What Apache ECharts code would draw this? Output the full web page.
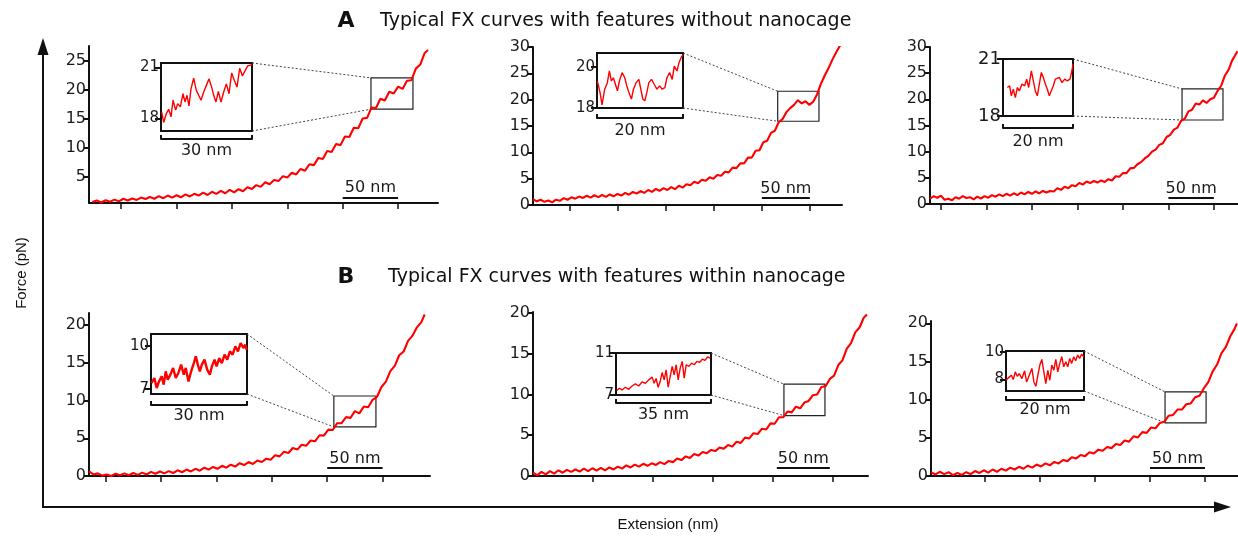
<!DOCTYPE html>
<html>
<head>
<meta charset="utf-8">
<title>FX curves</title>
<script src="https://cdn.jsdelivr.net/npm/echarts@6.0.0/dist/echarts.min.js"></script>
<style>
  html, body { margin: 0; padding: 0; background: #fff; }
  #chart { width: 1238px; height: 537px; }
</style>
</head>
<body>
<div id="chart"></div>
<script>
// force-extension curves, [extension nm, force pN]
const curveA1 = [[3,0.7],[7,0.95],[11,0.6],[15,1.0],[19,0.75],[23,1.1],[27,0.8],[31,1.25],[35,0.95],[39,1.3],[43,1.05],[47,1.45],[51,1.2],[55,1.55],[59,1.25],[63,1.7],[67,1.35],[71,1.8],[75,1.45],[79,1.85],[83,1.5],[87,2.0],[91,1.65],[95,2.1],[99,1.8],[103,2.3],[107,1.9],[111,2.45],[115,2.1],[119,2.6],[123,2.2],[127,2.8],[131,2.35],[135,2.9],[139,2.55],[143,3.25],[147,2.95],[151,3.6],[155,3.3],[159,4.1],[163,3.75],[167,4.5],[171,4.3],[175,5.15],[179,4.9],[183,5.75],[187,5.45],[191,6.4],[195,6.1],[199,7.2],[203,7.05],[207,8.3],[211,8.1],[215,9.5],[219,9.3],[223,10.7],[227,10.5],[231,12.0],[235,11.9],[239,13.5],[243,13.4],[247,15.1],[251,15.2],[255,17.0],[259,16.9],[263,18.5],[267,18.2],[271,19.7],[275,19.4],[279,20.6],[283,20.2],[287,21.6],[291,21.7],[295,23.7],[299,24.4],[303,26.4],[306,26.9]];
const curveA2 = [[0,1.1],[4,0.7],[8,1.0],[12,0.6],[16,0.85],[20,0.5],[24,1.0],[28,0.8],[32,1.3],[36,1.0],[40,1.45],[44,1.2],[48,1.6],[52,1.35],[56,1.75],[60,1.4],[64,1.85],[68,1.5],[72,1.9],[76,1.55],[80,2.0],[84,1.65],[88,2.1],[92,1.8],[96,2.3],[100,1.95],[104,2.5],[108,2.15],[112,2.65],[116,2.3],[120,2.85],[124,2.5],[128,3.05],[132,2.7],[136,3.2],[140,2.85],[144,3.4],[148,3.0],[152,3.65],[156,3.3],[160,3.95],[164,3.75],[168,4.4],[172,4.15],[176,4.8],[180,4.6],[184,5.25],[188,5.0],[192,5.7],[196,5.55],[200,6.3],[204,6.2],[208,7.1],[212,7.0],[216,7.9],[220,7.9],[224,9.0],[228,9.0],[232,10.3],[236,10.4],[240,11.9],[244,12.2],[248,13.7],[252,14.1],[256,15.7],[260,16.3],[264,17.6],[268,18.4],[272,19.0],[276,19.9],[280,19.3],[284,19.7],[288,19.0],[292,19.6],[296,21.0],[300,23.0],[304,24.6],[308,26.0],[312,27.6],[316,29.0],[320,30.3]];
const curveA3 = [[0,1.0],[4,1.5],[8,1.2],[12,1.6],[16,0.8],[20,1.0],[24,0.7],[28,1.3],[32,1.0],[36,1.5],[40,1.15],[44,1.3],[48,0.9],[52,1.4],[56,1.05],[60,1.5],[64,1.2],[68,1.7],[72,1.4],[76,1.85],[80,1.5],[84,1.95],[88,1.6],[92,2.05],[96,1.7],[100,2.2],[104,1.85],[108,2.3],[112,1.95],[116,2.4],[120,2.05],[124,2.5],[128,2.2],[132,2.5],[136,2.4],[140,3.0],[144,2.7],[148,3.3],[152,3.0],[156,3.6],[160,3.4],[164,4.0],[168,3.7],[172,4.3],[176,4.0],[180,4.4],[184,4.1],[188,4.5],[192,4.2],[196,4.75],[200,4.5],[204,5.3],[208,5.2],[212,5.9],[216,5.9],[220,6.8],[224,6.9],[228,7.6],[232,8.0],[236,8.7],[240,9.2],[244,10.0],[248,10.4],[252,11.3],[256,11.6],[260,12.8],[264,13.2],[268,14.2],[272,14.6],[276,15.9],[280,16.3],[284,17.7],[288,18.0],[292,19.2],[296,19.0],[300,19.8],[304,19.3],[308,20.0],[312,20.3],[316,21.6],[320,22.6],[324,24.5],[328,25.6],[332,27.4],[336,28.6],[338,29.2]];
const curveB1 = [[0,0.6],[4,0.2],[8,0.35],[12,0.05],[16,0.2],[20,0.0],[24,0.3],[28,0.1],[32,0.35],[36,0.1],[40,0.4],[44,0.15],[48,0.45],[52,0.2],[56,0.55],[60,0.3],[64,0.6],[68,0.35],[72,0.65],[76,0.4],[80,0.75],[84,0.5],[88,0.85],[92,0.6],[96,0.95],[100,0.7],[104,1.1],[108,0.85],[112,1.2],[116,0.95],[120,1.35],[124,1.1],[128,1.5],[132,1.25],[136,1.7],[140,1.45],[144,1.85],[148,1.6],[152,2.05],[156,1.85],[160,2.3],[164,2.15],[168,2.75],[172,2.6],[176,3.2],[180,3.05],[184,3.7],[188,3.5],[192,4.15],[196,4.0],[200,4.7],[204,4.6],[208,5.4],[212,5.35],[216,6.15],[220,6.1],[224,7.0],[228,7.0],[232,7.8],[236,7.7],[240,8.6],[244,8.3],[248,9.2],[252,9.1],[256,10.1],[260,10.5],[264,11.8],[268,12.5],[272,13.9],[276,14.6],[280,16.0],[284,16.5],[288,17.9],[292,18.6],[296,19.7],[300,20.4],[303,21.4]];
const curveB2 = [[0,0.4],[4,0.1],[8,0.5],[12,0.2],[16,0.6],[20,0.3],[24,0.7],[28,0.4],[32,0.75],[36,0.5],[40,0.8],[44,0.55],[48,0.9],[52,0.6],[56,0.95],[60,0.65],[64,1.0],[68,0.7],[72,1.05],[76,0.8],[80,1.15],[84,0.9],[88,1.3],[92,1.05],[96,1.4],[100,1.15],[104,1.5],[108,1.25],[112,1.55],[116,1.35],[120,1.7],[124,1.45],[128,1.85],[132,1.7],[136,2.15],[140,1.95],[144,2.4],[148,2.2],[152,2.7],[156,2.5],[160,2.95],[164,2.8],[168,3.2],[172,3.05],[176,3.5],[180,3.35],[184,3.8],[188,3.6],[192,4.2],[196,4.05],[200,4.7],[204,4.6],[208,5.25],[212,5.15],[216,5.8],[220,5.7],[224,6.45],[228,6.4],[232,7.2],[236,7.2],[240,7.9],[244,7.8],[248,8.5],[252,8.3],[256,9.0],[260,9.2],[264,9.9],[268,10.0],[272,10.9],[276,11.0],[280,11.9],[284,12.3],[288,13.6],[292,14.2],[296,15.6],[300,16.3],[304,17.6],[308,18.2],[312,19.4],[315,19.8]];
const curveB3 = [[0,0.5],[4,0.2],[8,0.55],[12,0.25],[16,0.5],[20,0.1],[24,0.4],[28,0.15],[32,0.5],[36,0.25],[40,0.65],[44,0.4],[48,0.75],[52,0.45],[56,0.85],[60,0.55],[64,0.95],[68,0.7],[72,1.1],[76,0.85],[80,1.2],[84,0.95],[88,1.35],[92,1.1],[96,1.5],[100,1.25],[104,1.65],[108,1.4],[112,1.85],[116,1.65],[120,2.1],[124,1.95],[128,2.45],[132,2.3],[136,2.75],[140,2.6],[144,3.1],[148,2.95],[152,3.45],[156,3.3],[160,3.8],[164,3.65],[168,4.2],[172,4.05],[176,4.65],[180,4.5],[184,5.2],[188,5.05],[192,5.75],[196,5.65],[200,6.35],[204,6.25],[208,6.95],[212,7.1],[216,7.9],[220,8.0],[224,8.7],[228,8.7],[232,9.4],[236,9.5],[240,10.3],[244,10.5],[248,11.5],[252,12.3],[256,13.7],[260,14.6],[264,16.1],[268,16.9],[272,18.3],[276,19.3],[278,20.0]];

// zoomed insets, [nm from box start, pN]
const insetA1 = [[0.22,18.39],[0.88,17.77],[1.76,18.29],[2.53,18.54],[3.3,18.1],[3.96,19.07],[4.84,18.49],[5.5,18.87],[6.37,18.68],[7.25,19.45],[7.91,18.97],[8.57,19.36],[9.23,18.74],[9.89,19.74],[10.77,20.36],[11.65,19.65],[12.42,19.36],[13.19,19.07],[14.07,19.55],[14.95,19.94],[15.83,20.32],[16.7,19.84],[17.36,19.36],[18.13,18.97],[18.9,19.59],[19.78,18.97],[20.66,19.55],[21.54,20.03],[22.42,19.45],[23.3,20.67],[24.18,20.23],[25.06,19.84],[25.94,20.94],[26.82,20.5],[27.7,20.79],[28.57,21.08],[29.45,21.12],[30,21.15]];
const insetA2 = [[0.08,19.32],[0.7,18.76],[1.17,18.15],[1.79,18.92],[2.41,19.24],[2.88,19.81],[3.35,19.32],[3.81,19.48],[4.28,19.16],[4.75,18.84],[5.21,19.32],[5.84,19.73],[6.46,19.48],[6.93,19.08],[7.55,18.68],[8.01,18.44],[8.48,18.92],[9.1,19.24],[9.73,19.4],[10.19,18.92],[10.66,18.44],[11.13,18.35],[11.59,18.76],[12.06,19.24],[12.68,19.4],[13.3,19.16],[13.93,18.92],[14.55,19.08],[15.17,18.92],[15.79,19.0],[16.26,19.48],[16.88,19.73],[17.5,19.4],[17.97,20.05],[18.6,19.81],[19.06,20.21],[19.53,20.45],[20,20.61]];
const insetA3 = [[1.24,19.5],[1.9,19.59],[2.38,19.06],[2.95,19.41],[3.52,18.97],[4.1,19.5],[4.67,19.32],[5.43,19.68],[6.19,19.59],[6.76,19.94],[7.33,19.5],[8.1,20.38],[8.67,19.85],[9.24,19.32],[9.81,19.06],[10.38,19.68],[10.95,20.29],[11.52,20.03],[12.1,19.68],[12.67,19.41],[13.24,19.06],[13.8,19.15],[14.38,19.59],[14.95,19.94],[15.52,19.85],[16.1,20.03],[16.86,19.76],[17.62,19.94],[18.38,19.85],[19.14,19.94],[19.7,20.38],[20,20.74]];
const insetB1 = [[0.21,7.42],[1.05,7.77],[1.78,7.07],[2.51,7.53],[3.34,7.88],[3.97,7.3],[4.6,8.23],[5.23,7.65],[6.06,8.0],[6.9,8.47],[7.73,7.77],[8.57,8.12],[9.41,8.7],[10.24,8.0],[10.87,8.47],[11.71,7.53],[12.54,8.23],[13.38,8.81],[14.0,9.28],[14.63,8.7],[15.26,8.23],[15.89,8.7],[16.72,9.05],[17.56,8.35],[18.39,8.0],[19.02,8.58],[19.86,9.05],[20.48,8.58],[21.32,9.16],[22.15,8.81],[22.99,9.4],[23.83,9.05],[24.66,9.63],[25.5,9.4],[26.34,9.98],[27.17,9.63],[28.01,10.21],[28.85,9.86],[29.47,10.09],[29.9,9.74]];
const insetB2 = [[0.25,7.42],[1.23,7.64],[2.22,7.48],[3.45,7.74],[4.68,7.54],[5.91,7.86],[7.15,8.06],[8.38,7.86],[9.61,8.25],[10.84,8.12],[12.07,8.44],[13.3,8.7],[14.04,8.12],[14.78,8.57],[15.52,7.74],[16.26,8.28],[17.0,9.14],[17.74,8.44],[18.48,9.4],[19.22,7.74],[19.96,8.76],[20.7,9.72],[21.43,8.92],[22.17,9.88],[22.91,8.44],[23.65,9.56],[24.39,10.2],[25.13,8.6],[25.87,9.88],[26.86,9.72],[27.84,10.04],[28.83,9.88],[29.81,10.2],[30.8,10.1],[31.79,10.42],[32.77,10.3],[33.76,10.62],[34.74,10.52]];
const insetB3 = [[0,7.95],[0.68,8.14],[1.36,8.31],[1.87,8.0],[2.38,8.55],[2.89,8.24],[3.4,8.43],[4.09,8.07],[4.77,8.63],[5.28,7.83],[5.96,8.31],[6.64,8.8],[7.15,7.83],[7.66,7.52],[8.17,8.31],[8.68,9.04],[9.19,9.45],[9.7,8.55],[10.21,7.71],[10.72,8.67],[11.23,7.95],[11.74,9.04],[12.26,8.67],[12.77,9.45],[13.28,8.55],[13.79,9.16],[14.3,9.64],[14.81,8.92],[15.32,9.28],[15.83,8.92],[16.34,9.52],[16.85,9.16],[17.36,9.64],[17.87,9.35],[18.38,9.76],[18.89,9.52],[19.4,9.83],[19.91,9.64]];

// axis ticks and labels
const xTicksA1 = [29, 79, 129, 179, 229, 279];
const xTicksA2 = [38.5, 88.5, 138.5, 188.5, 238.5, 288.5];
const xTicksA3 = [12, 62, 112, 162, 212, 262, 312];
const xTicksB1 = [15, 65, 115, 165, 215, 265];
const xTicksB2 = [56.6, 113.2, 169.8, 226.4, 283];
const xTicksB3 = [49, 99, 149, 199, 249];
const yLabelsA1 = [5, 10, 15, 20, 25];
const yLabelsA = [0, 5, 10, 15, 20, 25, 30];
const yLabelsB = [0, 5, 10, 15, 20];

const panels = [
  {curve: curveA1, xTicks: xTicksA1, yLabels: yLabelsA1, grid: {left: 89, top: 46, width: 349, height: 157}, x: [0, 315], y: [0.52, 27.6],
   box: [254.5, 292.4, 16.7, 22.1], bar: [229, 279, 1.5],
   inset: insetA1, ig: {left: 161, top: 63, width: 91, height: 68}, ix: [0, 30], iy: [17.27, 21.25], iLabels: [18, 21], iName: '30 nm', iOffset: 8, iGap: 4, iFont: 15},
  {curve: curveA2, xTicks: xTicksA2, yLabels: yLabelsA, grid: {left: 533, top: 47, width: 309, height: 158}, x: [0, 322], y: [0, 30],
   box: [255, 298, 15.9, 21.6], bar: [238.5, 288.5, 1.33],
   inset: insetA2, ig: {left: 597, top: 53, width: 86, height: 55}, ix: [0, 20], iy: [18, 20.69], iLabels: [18, 20], iName: '20 nm', iOffset: 10, iGap: 5, iFont: 15},
  {curve: curveA3, xTicks: xTicksA3, yLabels: yLabelsA, grid: {left: 930, top: 47, width: 308, height: 157}, x: [0, 338.5], y: [0, 30],
   box: [277, 322, 16.05, 21.98], bar: [262, 312, 1.15],
   inset: insetA3, ig: {left: 1003, top: 59, width: 70, height: 57}, ix: [0, 20], iy: [18, 21], iLabels: [18, 21], iName: '20 nm', iOffset: 12, iGap: 6, iFont: 18},
  {curve: curveB1, xTicks: xTicksB1, yLabels: yLabelsB, grid: {left: 89, top: 313, width: 341, height: 163}, x: [0, 307.8], y: [0, 21.6],
   box: [221, 259, 6.5, 10.6], bar: [215, 265, 1.06],
   inset: insetB1, ig: {left: 151, top: 334, width: 96, height: 60}, ix: [0, 30], iy: [6.65, 10.84], iLabels: [7, 10], iName: '30 nm', iOffset: 11, iGap: 3, iFont: 15, iWidth: 2.4},
  {curve: curveB2, xTicks: xTicksB2, yLabels: yLabelsB, grid: {left: 533, top: 312, width: 335, height: 164}, x: [0, 316], y: [0, 20.1],
   box: [236.7, 275.4, 7.4, 11.25], bar: [230, 280, 0.98],
   inset: insetB2, ig: {left: 616, top: 353, width: 95, height: 42}, ix: [0, 35], iy: [7, 11], iLabels: [7, 11], iName: '35 nm', iOffset: 8, iGap: 4, iFont: 15},
  {curve: curveB3, xTicks: xTicksB3, yLabels: yLabelsB, grid: {left: 931, top: 321, width: 307, height: 155}, x: [0, 279], y: [0, 20.3],
   box: [212.7, 250, 6.97, 11.02], bar: [199, 249, 1.05],
   inset: insetB3, ig: {left: 1006, top: 351, width: 78, height: 40}, ix: [0, 20], iy: [7.18, 10.05], iLabels: [8, 10], iName: '20 nm', iOffset: 9, iGap: 2, iFont: 15}
];

const ink = '#111';
const red = '#ff0000';
const wide = 'DejaVu Sans, Verdana, sans-serif';
const grid = [], xAxis = [], yAxis = [], series = [];

panels.forEach((p, i) => {
  grid.push(Object.assign({outerBoundsMode: 'none'}, p.grid));
  xAxis.push({
    gridIndex: i, type: 'value', min: p.x[0], max: p.x[1],
    axisLine: {show: true, lineStyle: {color: ink, width: 2}},
    axisTick: {show: true, customValues: p.xTicks, length: 6, lineStyle: {color: ink, width: 1.5}},
    axisLabel: {show: false},
    splitLine: {show: false}
  });
  yAxis.push({
    gridIndex: i, type: 'value', min: p.y[0], max: p.y[1],
    axisLine: {show: true, lineStyle: {color: ink, width: 2}},
    axisTick: {show: true, customValues: p.yLabels, length: 5, lineStyle: {color: ink, width: 2}},
    axisLabel: {show: true, customValues: p.yLabels, fontSize: 16, color: '#1a1a1a', margin: 3},
    splitLine: {show: false}
  });
  series.push({
    type: 'line', xAxisIndex: i, yAxisIndex: i, data: p.curve,
    symbol: 'none', lineStyle: {color: red, width: 2.1},
    markArea: {
      silent: true,
      itemStyle: {color: 'rgba(0,0,0,0)', borderColor: '#222', borderWidth: 1.2},
      data: [[{coord: [p.box[0], p.box[2]]}, {coord: [p.box[1], p.box[3]]}]]
    },
    markLine: {
      silent: true, symbol: ['none', 'none'],
      lineStyle: {color: ink, width: 2, type: 'solid'},
      label: {show: true, position: 'middle', formatter: '50 nm', fontSize: 16, color: '#1a1a1a', distance: 1},
      data: [[{coord: [p.bar[0], p.bar[2]]}, {coord: [p.bar[1], p.bar[2]]}]]
    }
  });
});

panels.forEach((p, i) => {
  const k = 6 + i;
  grid.push(Object.assign({outerBoundsMode: 'none', show: true, borderColor: ink, borderWidth: 2}, p.ig));
  xAxis.push({
    gridIndex: k, type: 'value', min: p.ix[0], max: p.ix[1], offset: p.iOffset,
    axisLine: {show: true, lineStyle: {color: ink, width: 2}},
    axisTick: {show: true, inside: true, customValues: p.ix, length: 4, lineStyle: {color: ink, width: 2}},
    axisLabel: {show: false},
    splitLine: {show: false},
    name: p.iName, nameLocation: 'middle', nameGap: p.iGap,
    nameTextStyle: {fontSize: 16, color: '#1a1a1a'}
  });
  yAxis.push({
    gridIndex: k, type: 'value', min: p.iy[0], max: p.iy[1],
    axisLine: {show: false},
    axisTick: {show: true, customValues: p.iLabels, length: 6, lineStyle: {color: ink, width: 2}},
    axisLabel: {show: true, customValues: p.iLabels, fontSize: p.iFont, color: '#1a1a1a', margin: 2},
    splitLine: {show: false}
  });
  series.push({
    type: 'line', xAxisIndex: k, yAxisIndex: k, data: p.inset,
    symbol: 'none', lineStyle: {color: red, width: p.iWidth || 1.4}
  });
});

const chart = echarts.init(document.getElementById('chart'), null, {renderer: 'canvas'});
const option = {
  animation: false,
  backgroundColor: '#fff',
  textStyle: {fontFamily: wide},
  grid: grid,
  xAxis: xAxis,
  yAxis: yAxis,
  series: series
};
chart.setOption(option);

// frame: titles, big arrows, axis names
const font = 'Liberation Sans, Arial, sans-serif';
const graphics = [
  {type: 'text', x: 346, y: 21, style: {text: 'A', font: 'bold 22px ' + wide, fill: ink, textAlign: 'center', textVerticalAlign: 'middle'}},
  {type: 'text', x: 380, y: 21, style: {text: 'Typical FX curves with features without nanocage', font: '19px ' + wide, fill: ink, textAlign: 'left', textVerticalAlign: 'middle'}},
  {type: 'text', x: 346, y: 277, style: {text: 'B', font: 'bold 22px ' + wide, fill: ink, textAlign: 'center', textVerticalAlign: 'middle'}},
  {type: 'text', x: 388, y: 277, style: {text: 'Typical FX curves with features within nanocage', font: '19px ' + wide, fill: ink, textAlign: 'left', textVerticalAlign: 'middle'}},
  {type: 'text', x: 22, y: 273, rotation: Math.PI / 2, style: {text: 'Force (pN)', font: '15px ' + font, fill: ink, textAlign: 'center', textVerticalAlign: 'middle'}},
  {type: 'text', x: 668, y: 525, style: {text: 'Extension (nm)', font: '15px ' + font, fill: ink, textAlign: 'center', textVerticalAlign: 'middle'}},
  {type: 'line', shape: {x1: 43, y1: 508, x2: 43, y2: 50}, style: {stroke: ink, lineWidth: 2}},
  {type: 'polygon', shape: {points: [[43, 38], [37.5, 55], [48.5, 55]]}, style: {fill: ink}},
  {type: 'line', shape: {x1: 42, y1: 507, x2: 1220, y2: 507}, style: {stroke: ink, lineWidth: 2}},
  {type: 'polygon', shape: {points: [[1231, 507], [1214, 501.5], [1214, 512.5]]}, style: {fill: ink}}
];

// dotted lines from each inset to its box on the curve
panels.forEach((p, i) => {
  const ins = {xAxisIndex: 6 + i, yAxisIndex: 6 + i};
  const main = {xAxisIndex: i, yAxisIndex: i};
  const a = chart.convertToPixel(ins, [p.ix[1], p.iy[1]]);
  const b = chart.convertToPixel(main, [p.box[0], p.box[3]]);
  const c = chart.convertToPixel(ins, [p.ix[1], p.iy[0]]);
  const d = chart.convertToPixel(main, [p.box[0], p.box[2]]);
  [[a, b], [c, d]].forEach(seg => {
    graphics.push({
      type: 'line', silent: true,
      shape: {x1: seg[0][0], y1: seg[0][1], x2: seg[1][0], y2: seg[1][1]},
      style: {stroke: '#444', lineWidth: 1, lineDash: [2, 2]}
    });
  });
});

chart.setOption({graphic: graphics});
</script>
</body>
</html>
